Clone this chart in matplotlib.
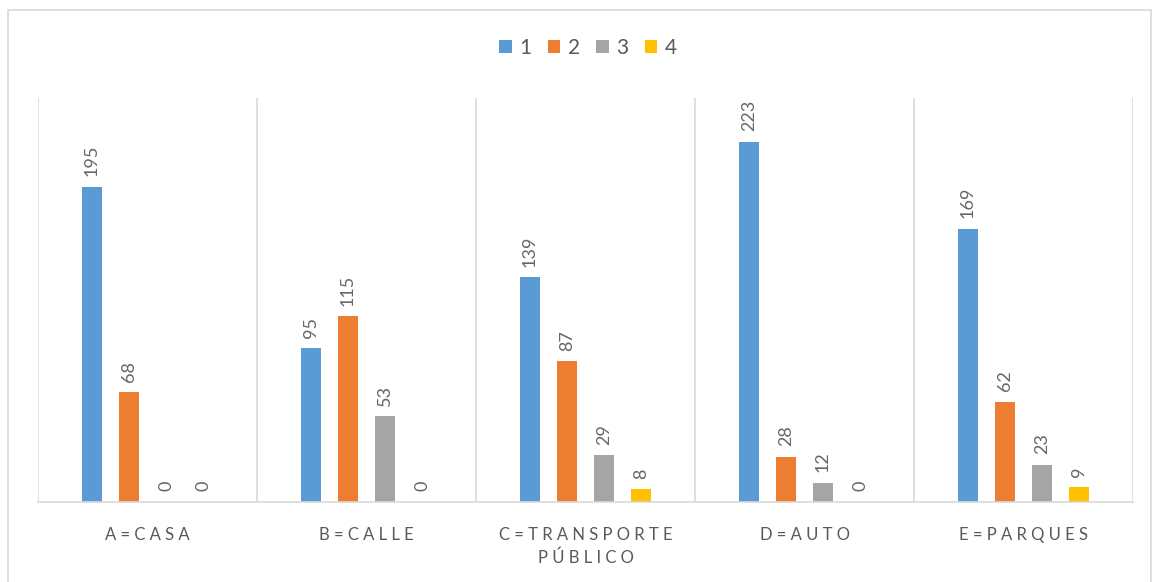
import matplotlib.pyplot as plt
from matplotlib.patches import Rectangle
import numpy as np

plt.rcParams['font.family'] = ['Lato', 'DejaVu Sans']

categorias = ["A=CASA", "B=CALLE", "C=TRANSPORTE\nPÚBLICO", "D=AUTO", "E=PARQUES"]
series = ["1", "2", "3", "4"]
valores_1 = [195, 95, 139, 223, 169]
valores_2 = [68, 115, 87, 28, 62]
valores_3 = [0, 53, 29, 12, 23]
valores_4 = [0, 0, 8, 0, 9]
colores = ["#5B9BD5", "#ED7D31", "#A5A5A5", "#FFC000"]
gris_texto = "#595959"


def espaciar(txt):
    # letras separadas como en el original
    return "\n".join(" ".join(list(linea)) for linea in txt.split("\n"))


fig = plt.figure(figsize=(11.6, 5.82), dpi=100)
ax = fig.add_axes([38/1160, 1-502/582, (1133-38)/1160, (502-98)/582])

# marco exterior
fig.patches.append(Rectangle((8/1160, -0.01), (1151-8)/1160, 1-10/582+0.01,
                             transform=fig.transFigure, fill=False,
                             edgecolor="#d9d9d9", linewidth=1.2))

x = np.arange(len(categorias))
ancho = 0.091
paso = 0.169
datos = [valores_1, valores_2, valores_3, valores_4]
for i, (vals, col, nombre) in enumerate(zip(datos, colores, series)):
    pos = x + (i - 1.5) * paso
    ax.bar(pos, vals, ancho, color=col, label=nombre)
    for a, b in zip(pos, vals):
        ax.text(a, b + 6.5, str(b), rotation=90, ha='center', va='bottom',
                fontsize=13, color="#666666")

ax.set_xlim(-0.5, 4.5)
ax.set_ylim(0, 250)
ax.set_yticks([])
ax.set_xticks(x)
ax.set_xticklabels([espaciar(c) for c in categorias], fontsize=12, color=gris_texto,
                   linespacing=1.5)
ax.tick_params(axis='x', length=0, pad=18)
for b in np.arange(-0.5, 5, 1):
    ax.axvline(b, color="#d9d9d9", linewidth=1.2, zorder=0)
for s in ['top', 'right', 'left']:
    ax.spines[s].set_visible(False)
ax.spines['bottom'].set_color("#d9d9d9")
ax.spines['bottom'].set_linewidth(1.2)

fig.legend(loc='center', bbox_to_anchor=(588/1160, 1-48/582), ncol=4, frameon=False,
           fontsize=15, handlelength=0.6, handleheight=0.6, handletextpad=0.35,
           columnspacing=0.8, labelcolor=gris_texto)

fig.savefig("out.png", dpi=100)
